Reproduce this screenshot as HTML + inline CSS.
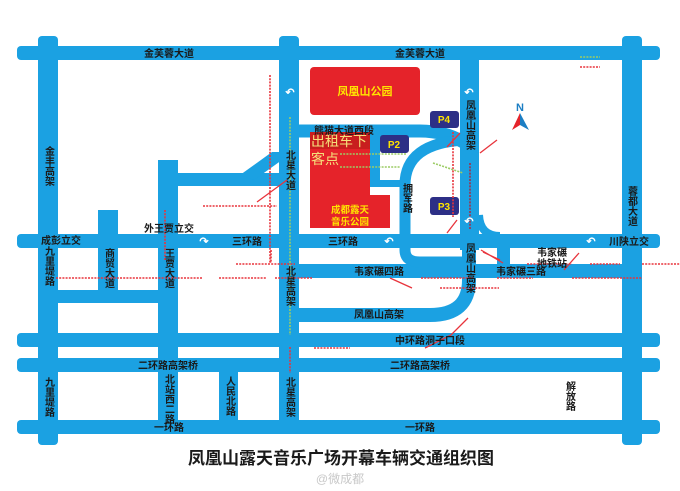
<!DOCTYPE html>
<html><head><meta charset="utf-8"><style>
html,body{margin:0;padding:0;background:#fff;}
svg{display:block;}
text{font-family:"Liberation Sans","Noto Sans CJK SC",sans-serif;font-weight:bold;fill:#1a1a1a;}
.v{writing-mode:vertical-rl;font-size:10px;}
.h{font-size:10px;}
.rd{stroke:#e8343c;stroke-width:1.6;stroke-dasharray:2 1.2;fill:none;}
.gd{stroke:#9ccc65;stroke-width:1.6;stroke-dasharray:2 1.2;fill:none;}
.rl{stroke:#e8343c;stroke-width:1.3;fill:none;}
</style></head><body>
<svg width="680" height="491" viewBox="0 0 680 491" xmlns="http://www.w3.org/2000/svg">
<g fill="#1ba1e2">
 <!-- horizontals -->
 <rect x="17" y="46" width="643" height="14" rx="4"/>
 <rect x="17" y="234" width="643" height="14" rx="4"/>
 <rect x="17" y="333" width="643" height="14" rx="4"/>
 <rect x="17" y="358" width="643" height="14" rx="4"/>
 <rect x="17" y="420" width="643" height="14" rx="4"/>
 <rect x="58" y="290" width="100" height="13"/>
 <rect x="178" y="173" width="102" height="13"/>
 <polygon points="240,175 272,152 282,152 282,160 254,180"/>
 <rect x="299" y="264" width="323" height="14"/>
 <rect x="497" y="246" width="13" height="20"/>
 <!-- verticals -->
 <rect x="38" y="36" width="20" height="409" rx="4"/>
 <rect x="98" y="210" width="20" height="93"/>
 <rect x="158" y="160" width="20" height="273"/>
 <rect x="219" y="365" width="19" height="68"/>
 <rect x="279" y="36" width="20" height="397" rx="4"/>
 <rect x="622" y="36" width="20" height="409" rx="4"/>
 <rect x="460" y="50" width="19" height="200"/>
 <rect x="370" y="131" width="10" height="56"/>
 <rect x="370" y="180" width="35" height="7"/>
</g>
<g fill="none" stroke="#1ba1e2">
 <path d="M299,315 L430,315 Q469,315 469,280 L469,246" stroke-width="14"/>
 <path d="M299,131 L420,131 Q445,131 465,143" stroke-width="13"/>
 <path d="M465,140 Q405,143 405,185 L405,250 Q405,262 420,262 L465,262" stroke-width="11"/>
 <path d="M479,215 Q480,236 500,236" stroke-width="8"/>
</g>
<!-- park -->
<rect x="310" y="67" width="110" height="48" rx="4" fill="#e5232a"/>
<text x="365" y="95" text-anchor="middle" style="font-size:11px;fill:#ffe400">凤凰山公园</text>
<path d="M310,132 L370,132 L370,195 L390,195 L390,228 L310,228 Z" fill="#e5232a"/>
<rect x="310" y="132" width="60" height="17" fill="#c81e1e"/>
<text x="311" y="146" style="font-size:14px;font-weight:normal;fill:#f5e07a">出租车下</text>
<text x="311" y="164" style="font-size:14px;font-weight:normal;fill:#f5e07a">客点</text>
<text x="350" y="213" text-anchor="middle" style="font-size:9.5px;fill:#ffe400">成都露天</text>
<text x="350" y="225" text-anchor="middle" style="font-size:9.5px;fill:#ffe400">音乐公园</text>
<!-- P signs -->
<g fill="#2d2f86">
 <rect x="430" y="111" width="29" height="17" rx="3"/>
 <rect x="380" y="135" width="29" height="18" rx="3"/>
 <rect x="430" y="197" width="29" height="18" rx="3"/>
</g>
<g style="font-size:10px;fill:#ffe400">
 <text x="444" y="123" text-anchor="middle" style="fill:#ffe400">P4</text>
 <text x="394" y="148" text-anchor="middle" style="fill:#ffe400">P2</text>
 <text x="444" y="210" text-anchor="middle" style="fill:#ffe400">P3</text>
</g>
<!-- N arrow -->
<text x="520" y="111" text-anchor="middle" style="font-size:11px;fill:#1b7ec4">N</text>
<polygon points="520,113 512,130 520,125" fill="#e5232a"/>
<polygon points="520,113 529,130 520,125" fill="#1b7ec4"/>
<!-- dotted lines -->
<path class="rd" d="M270,75 V263"/>
<path class="gd" d="M290,117 V335"/>
<path class="rd" d="M203,206 H277"/>
<path class="rd" d="M165,210 V260"/>
<path class="rd" d="M453,132 V217"/>
<path class="rd" d="M470,163 V230" style="stroke:#a0304a"/>
<path class="gd" d="M340,154 H407 M340,167 H400 M433,163 L463,173"/>
<path class="gd" d="M580,57 H600"/>
<path class="rd" d="M580,67 H600"/>
<path class="rd" d="M236,264 H295 M527,264 H572 M590,264 H620 M642,264 H680"/>
<path class="rd" d="M56,278 H202 M219,278 H267 M275,278 H312 M421,278 H473 M497,278 H533 M572,278 H642"/>
<path class="rd" d="M440,288 H499 M314,348 H350 M271,250 V263 M290,347 V373"/>
<g class="rl">
 <path d="M257,202 L287,180"/>
 <path d="M480,153 L497,140 M447,147 L460,133 M447,233 L457,220"/>
 <path d="M390,278 L412,288 M468,318 L451,335 L425,348 M481,250 L503,263 M564,270 L579,253 M483,252 L500,260"/>
</g>
<!-- U-turn arrows -->
<g style="font-size:11px;fill:#fff">
 <text x="290" y="96" text-anchor="middle" style="fill:#fff">↶</text>
 <text x="469" y="96" text-anchor="middle" style="fill:#fff">↶</text>
 <text x="469" y="225" text-anchor="middle" style="fill:#fff">↶</text>
 <text x="204" y="245" text-anchor="middle" style="fill:#fff">↷</text>
 <text x="389" y="245" text-anchor="middle" style="fill:#fff">↶</text>
 <text x="591" y="245" text-anchor="middle" style="fill:#fff">↶</text>
</g>
<!-- labels -->
<text class="h" x="169" y="57" text-anchor="middle">金芙蓉大道</text>
<text class="h" x="420" y="57" text-anchor="middle">金芙蓉大道</text>
<text class="h" x="169" y="232" text-anchor="middle">外王贾立交</text>
<text class="h" x="61" y="244" text-anchor="middle">成彭立交</text>
<text class="h" x="247" y="245" text-anchor="middle">三环路</text>
<text class="h" x="343" y="245" text-anchor="middle">三环路</text>
<text class="h" x="629" y="245" text-anchor="middle">川陕立交</text>
<text class="h" x="344" y="134" text-anchor="middle">熊猫大道西段</text>
<text class="h" x="552" y="256" text-anchor="middle">韦家碾</text>
<text class="h" x="552" y="267" text-anchor="middle">地铁站</text>
<text class="h" x="379" y="275" text-anchor="middle">韦家碾四路</text>
<text class="h" x="521" y="275" text-anchor="middle">韦家碾三路</text>
<text class="h" x="379" y="318" text-anchor="middle">凤凰山高架</text>
<text class="h" x="430" y="344" text-anchor="middle">中环路洞子口段</text>
<text class="h" x="168" y="369" text-anchor="middle">二环路高架桥</text>
<text class="h" x="420" y="369" text-anchor="middle">二环路高架桥</text>
<text class="h" x="169" y="431" text-anchor="middle">一环路</text>
<text class="h" x="420" y="431" text-anchor="middle">一环路</text>
<text class="v" x="48" y="146">金丰高架</text>
<text class="v" x="289" y="150">北星大道</text>
<text class="v" x="469" y="100">凤凰山高架</text>
<text class="v" x="406" y="183">拥军路</text>
<text class="v" x="631" y="186">蓉都大道</text>
<text class="v" x="469" y="243">凤凰山高架</text>
<text class="v" x="48" y="246">九里堤路</text>
<text class="v" x="108" y="248">商贸大道</text>
<text class="v" x="168" y="248">王贾大道</text>
<text class="v" x="289" y="266">北星高架</text>
<text class="v" x="48" y="377">九里堤路</text>
<text class="v" x="168" y="374">北站西二路</text>
<text class="v" x="229" y="376">人民北路</text>
<text class="v" x="289" y="377">北星高架</text>
<text class="v" x="569" y="381">解放路</text>
<text x="341" y="464" text-anchor="middle" style="font-size:17px">凤凰山露天音乐广场开幕车辆交通组织图</text>
<text x="340" y="483" text-anchor="middle" style="font-size:12px;font-weight:normal;fill:#c8c8c8">@微成都</text>
</svg>
</body></html>
